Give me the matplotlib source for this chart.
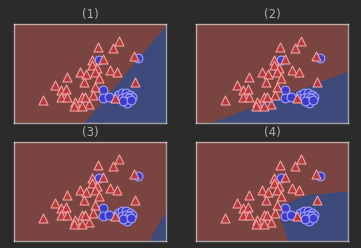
import matplotlib
matplotlib.use("Agg")
import matplotlib.pyplot as plt
import numpy as np

# Data (arbitrary units: x 0..152, y 0..99)
tri_x = [83.5, 105.3, 99.3, 77.7, 89.3, 77.7, 82.5, 81.0, 85.2, 96.0, 102.7, 120.2,
         121.2, 81.0, 79.3, 101.0, 75.0, 53.3, 66.0, 71.5, 70.2, 41.0, 47.0, 51.5,
         47.0, 52.7, 29.3, 67.5, 71.0, 61.0, 60.3, 68.0]
tri_y = [76.3, 81.7, 75.0, 63.5, 63.8, 58.5, 55.0, 50.7, 45.0, 52.7, 51.5, 67.2,
         40.7, 36.3, 28.0, 25.2, 19.2, 46.3, 51.3, 48.7, 41.3, 38.2, 33.0, 34.0,
         26.3, 26.3, 23.5, 26.3, 26.3, 21.3, 17.0, 17.5]
cir_x = [85.0, 123.5, 88.5, 89.3, 95.0, 104.0, 108.0, 112.0, 115.5, 118.0, 107.5,
         111.5, 115.0, 111.5, 113.0, 109.0, 116.5]
cir_y = [63.0, 65.5, 33.5, 24.7, 26.2, 28.0, 30.0, 30.0, 28.5, 26.0, 25.5,
         26.0, 25.0, 22.5, 20.0, 22.0, 23.0]

titles = ["(1)", "(2)", "(3)", "(4)"]

# Blue-region boundaries (x, y)
bnd1_x = [71.0, 152.0, 152.0]
bnd1_y = [0.0, 97.0, 0.0]
bnd2_x = [15.7, 152.0, 152.0]
bnd2_y = [0.0, 51.3, 0.0]
bnd3_x = [136.0, 139.0, 142.0, 145.0, 148.0, 152.0, 152.0]
bnd3_y = [0.0, 7.0, 12.0, 18.0, 23.0, 28.0, 0.0]
bnd4_x = [92.3, 90.7, 89.0, 87.3, 84.0, 85.7, 87.3, 95.7, 105.7, 115.7, 129.0, 142.3, 152.0, 152.0]
bnd4_y = [0.0, 2.7, 9.3, 16.0, 22.7, 29.3, 36.0, 39.3, 44.3, 46.7, 47.3, 48.7, 49.3, 0.0]
boundaries = [(bnd1_x, bnd1_y), (bnd2_x, bnd2_y), (bnd3_x, bnd3_y), (bnd4_x, bnd4_y)]

BG = "#2b2b2b"
RED_REGION = "#7a4541"
BLUE_REGION = "#3e4a7b"

fig = plt.figure(figsize=(3.61, 2.48), dpi=100, facecolor=BG)
lefts = [14 / 361, 196 / 361]
bottoms = [1 - 123 / 248, 1 - 241 / 248]
w = 152 / 361
h = 99 / 248
pos = [(lefts[0], bottoms[0]), (lefts[1], bottoms[0]), (lefts[0], bottoms[1]), (lefts[1], bottoms[1])]

for i, (l, b) in enumerate(pos):
    ax = fig.add_axes([l, b, w, h])
    ax.set_facecolor(RED_REGION)
    bx, by = boundaries[i]
    ax.fill(bx, by, color=BLUE_REGION, lw=0, zorder=1)
    ax.scatter(cir_x, cir_y, marker="o", s=40, facecolor="#3d3dcc", edgecolor="#9f9fff",
               linewidths=0.8, zorder=3)
    ax.scatter(tri_x, tri_y, marker="^", s=42, facecolor="#b8393b", edgecolor="#f3a0a0",
               linewidths=0.8, zorder=4)
    ax.set_xlim(0, 152)
    ax.set_ylim(0, 99)
    ax.set_xticks([])
    ax.set_yticks([])
    for sp in ax.spines.values():
        sp.set_color((1, 1, 1, 0.55))
        sp.set_linewidth(1.0)
    ax.set_title(titles[i], color="#b0b0b0", fontsize=8.5, pad=4)

fig.savefig("out.png", dpi=100, facecolor=BG)
